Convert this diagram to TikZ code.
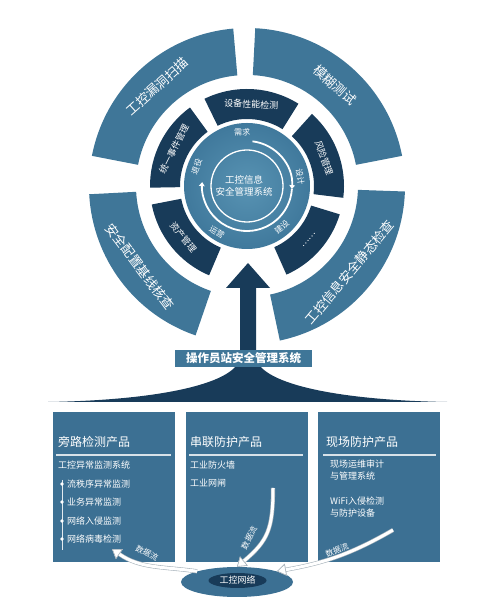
\documentclass[tikz,border=0pt]{standalone}
\usepackage{fontspec}
\newfontfamily\cjk{Noto Sans CJK SC}
\usetikzlibrary{arrows.meta,shapes.geometric}
\definecolor{outblue}{HTML}{3F7698}
\definecolor{darkblue}{HTML}{183B59}
\definecolor{diskin}{HTML}{5893B3}
\definecolor{diskout}{HTML}{40799C}
\definecolor{boxblue}{HTML}{3C7093}
\definecolor{fadegray}{HTML}{DDE3E8}
\definecolor{flowgray}{HTML}{A9B4BC}
\pgfdeclarehorizontalshading{bell}{100bp}{color(0bp)=(fadegray); color(14bp)=(darkblue); color(86bp)=(darkblue); color(100bp)=(fadegray)}
\tikzset{os/.style = {fill=outblue},
         ds/.style = {fill=darkblue},
         ot/.style = {text=white, inner sep=0pt, font=\cjk\fontsize{13}{15}\selectfont},
         dt/.style = {text=white, inner sep=0pt, font=\cjk\fontsize{9}{11}\selectfont},
         ct/.style = {text=white, inner sep=0pt, font=\cjk\fontsize{8}{10}\selectfont},
         bx/.style = {fill=boxblue, minimum width=122pt, minimum height=150pt, inner sep=0pt},
         hd/.style = {text=white, anchor=west, inner sep=0pt, font=\cjk\fontsize{12}{14}\selectfont},
         it/.style = {text=white, anchor=west, inner sep=0pt, align=left, font=\cjk\fontsize{9}{11.5}\selectfont},
         b/.style  = {circle, fill=white, minimum size=3.6pt, inner sep=0pt},
         ln/.style = {draw=white!80!boxblue, line width=1.2pt},
         fl/.style = {line width=3pt, draw=white, preaction={draw=flowgray, line width=4.2pt},
                      -{Triangle[length=9pt, width=12pt, fill=white, color=flowgray, line width=0.6pt]}},
         ft/.style = {text=white, inner sep=0pt, font=\cjk\fontsize{8}{10}\selectfont}}

\begin{document}
\begin{tikzpicture}[x=1pt, y=1pt]
  \useasboundingbox (0,0) rectangle (500,607);
  \shade[shading=bell] (248,344) -- (270,319) -- (256,319) -- (256,250)
      .. controls (258,225) and (330,207) .. (447,205) -- (48,205)
      .. controls (166,207) and (238,225) .. (240,250) -- (240,319) -- (226,319) -- cycle;

  \begin{scope}[shift={(247,421)}]
    \fill[os] (95:158pt) arc[start angle=95, end angle=169, radius=158pt] -- (169:111pt) arc[start angle=169, end angle=95, radius=111pt] -- cycle;
    \fill[os] (11:158pt) arc[start angle=11, end angle=87, radius=158pt] -- (87:111pt) arc[start angle=87, end angle=11, radius=111pt] -- cycle;
    \fill[os] (183:158pt) arc[start angle=183, end angle=251, radius=158pt] -- (251:111pt) arc[start angle=251, end angle=183, radius=111pt] -- cycle;
    \fill[os] (282:158pt) arc[start angle=282, end angle=358, radius=158pt] -- (358:111pt) arc[start angle=358, end angle=282, radius=111pt] -- cycle;
    \fill[ds] (58:97pt) arc[start angle=58, end angle=116, radius=97pt] -- (116:67pt) arc[start angle=116, end angle=58, radius=67pt] -- cycle;
    \fill[ds] (-7:97pt) arc[start angle=-7, end angle=48, radius=97pt] -- (48:67pt) arc[start angle=48, end angle=-7, radius=67pt] -- cycle;
    \fill[ds] (126:97pt) arc[start angle=126, end angle=181, radius=97pt] -- (181:67pt) arc[start angle=181, end angle=126, radius=67pt] -- cycle;
    \fill[ds] (191:97pt) arc[start angle=191, end angle=247, radius=97pt] -- (247:67pt) arc[start angle=247, end angle=191, radius=67pt] -- cycle;
    \fill[ds] (-66:97pt) arc[start angle=-66, end angle=-17, radius=97pt] -- (-17:67pt) arc[start angle=-17, end angle=-66, radius=67pt] -- cycle;
    \shade[inner color=diskin, outer color=diskout] (0,0) circle[radius=63pt];
    \draw[white, line width=1.3pt] (0,0) circle[radius=36pt];
    \draw[white, line width=1.8pt, -{Triangle[length=4pt, width=5.5pt]}] (83:45pt) arc[start angle=83, end angle=-4, radius=45pt];
    \draw[white, line width=1.8pt, -{Triangle[length=4pt, width=5.5pt]}] (-4:45pt) arc[start angle=-4, end angle=-185, radius=45pt];

    \node[ot, rotate=42]  (scan) at (132:134pt) {工控漏洞扫描};
    \node[ot, rotate=-41] (fuzz) at (49:134pt) {模糊测试};
    \node[ot, rotate=-53] (base) at (217:134pt) {安全配置基线核查};
    \node[ot, rotate=50]  (stat) at (320:134pt) {工控信息安全静态检查};
    \node[dt, rotate=-3]  (perf) at (87:82pt) {设备性能检测};
    \node[dt, rotate=-70] (risk) at (20:82pt) {风险管理};
    \node[dt, rotate=63]  (evnt) at (153:82pt) {统一事件管理};
    \node[dt, rotate=-51] (asst) at (219:82pt) {资产管理};
    \node[dt, rotate=49]  (more) at (-41:82pt) {……};
    \node[ct, rotate=3]   (need) at (95:54pt) {需求};
    \node[ct, rotate=-80] (dsgn) at (10:54pt) {设计};
    \node[ct, rotate=40]  (bild) at (-50:54pt) {建设};
    \node[ct, rotate=-33] (oper) at (-123:55pt) {运营};
    \node[ct, rotate=69]  (retr) at (159:54pt) {退役};
    \node[ct, align=center, font=\cjk\fontsize{9.5}{12}\selectfont] (core) at (-3,0) {工控信息\\安全管理系统};
  \end{scope}

  \node[fill=outblue, text=white, minimum width=137pt, minimum height=17pt, inner sep=0pt,
        font=\cjk\bfseries\fontsize{11.5}{13}\selectfont] (opsys) at (243.5,248.5) {操作员站安全管理系统};

  \node[bx] (bypass) at (114,120) {};
  \node[bx] (serial) at (246.5,120) {};
  \node[bx] (field)  at (379,120) {};
  \node[hd] (bypasshd) at (58,165) {旁路检测产品};
  \node[hd] (serialhd) at (190,165) {串联防护产品};
  \node[hd] (fieldhd)  at (326,165) {现场防护产品};
  \draw[ln] (56,152) -- (171,152);
  \draw[ln] (189,152) -- (303,152);
  \draw[ln] (323,152) -- (436,152);

  \node[it] (ids) at (58,142) {工控异常监测系统};
  \draw[white!85!boxblue, line width=0.6pt] (62,127) -- (62,57);
  \node[b] (d1) at (62,123) {}; \node[it] (i1) at (67,123) {流秩序异常监测};
  \node[b] (d2) at (62,105) {}; \node[it] (i2) at (67,105) {业务异常监测};
  \node[b] (d3) at (62,86)  {}; \node[it] (i3) at (67,86)  {网络入侵监测};
  \node[b] (d4) at (62,68)  {}; \node[it] (i4) at (67,68)  {网络病毒检测};
  \node[it] (fw)  at (190,142) {工业防火墙};
  \node[it] (gap) at (190,124) {工业网闸};
  \node[it] (aud) at (330,137) {现场运维审计\\与管理系统};
  \node[it] (wif) at (330,100) {WiFi入侵检测\\与防护设备};

  \node[ellipse, fill=boxblue, minimum width=112pt, minimum height=30pt, inner sep=0pt] (netbase) at (237,25) {};
  \node[ellipse, fill=darkblue, text=white, minimum width=58pt, minimum height=15pt, inner sep=0.5pt,
        font=\cjk\fontsize{9}{11}\selectfont] (net) at (237.5,26.5) {工控网络};

  \coordinate (bypin)   at (112,58);
  \coordinate (sertail) at (273,119);
  \coordinate (fldtail) at (393,77);
  \draw[fl] (netbase.165) to[out=172, in=-35] (bypin);
  \draw[fl] (sertail) to[out=-90, in=40, looseness=1.2] (netbase.north);
  \draw[fl] (fldtail) to[out=-150, in=10] (netbase.15);
  \node[ft, rotate=-28] (f1) at (147,54) {数据流};
  \node[ft, rotate=62]  (f2) at (249,69) {数据流};
  \node[ft, rotate=22]  (f3) at (337,57) {数据流};
\end{tikzpicture}
\end{document}
